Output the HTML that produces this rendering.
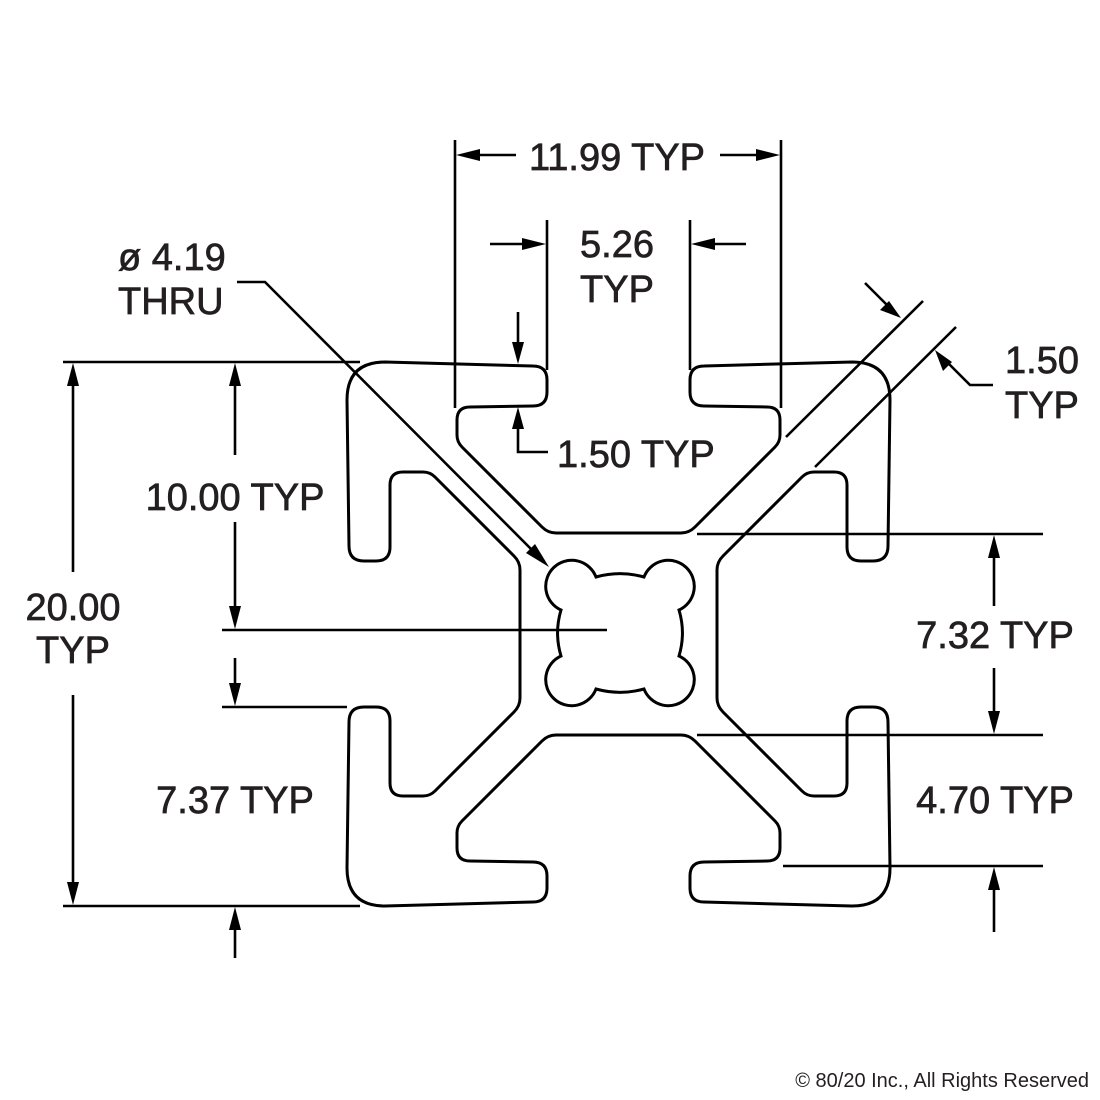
<!DOCTYPE html>
<html><head><meta charset="utf-8"><style>
html,body{margin:0;padding:0;background:#fff;}
svg{display:block;}
text{font-family:"Liberation Sans",Arial,sans-serif;fill:#231f20;}
</style></head><body>
<svg width="1100" height="1100" viewBox="0 0 1100 1100" xmlns="http://www.w3.org/2000/svg">
<defs>
<path id="q" d="M618.5,533 L556,533 Q548,533 542,527 L462,447 Q457,442 457,435 L457,420 Q457,407 470,407 L533,406 Q547,406 547,392 L547,380 Q547,366 533,366 L385,362 Q347,362 347,400 L349,546 Q349,561 364,561 L376,561 Q390,561 390,547 L390,485 Q390,472 403,472 L423,472 Q430,472 435,477 L514,556 Q520,562 520,570 L520,634" fill="none" stroke="#000" stroke-width="3" stroke-linejoin="round"/>
</defs>
<use href="#q"/>
<use href="#q" transform="translate(1237,0) scale(-1,1)"/>
<use href="#q" transform="translate(0,1268) scale(1,-1)"/>
<use href="#q" transform="translate(1237,1268) scale(-1,-1)"/>
<path d="M596,577 A26,26 0 1 0 561,610 A80,80 0 0 0 561,656 A26,26 0 1 0 596,689 A90,90 0 0 0 644,689 A26,26 0 1 0 679,656 A80,80 0 0 0 679,610 A26,26 0 1 0 644,577 A90,90 0 0 0 596,577 Z" fill="none" stroke="#000" stroke-width="3"/>

<g stroke="#000" stroke-width="2.6" fill="none">
<line x1="455" y1="140" x2="455" y2="408"/><line x1="781" y1="140" x2="781" y2="408"/>
<line x1="470" y1="155" x2="516" y2="155"/><line x1="720" y1="155" x2="766" y2="155"/>
<line x1="547" y1="220" x2="547" y2="370"/><line x1="690" y1="220" x2="690" y2="370"/>
<line x1="490" y1="244" x2="530" y2="244"/><line x1="707" y1="244" x2="746" y2="244"/>
<line x1="518" y1="312" x2="518" y2="348"/>
<polyline points="518,424 518,452 548,452"/>
<polyline points="237,282 265,282 538,556"/>
<line x1="786" y1="437" x2="923" y2="301"/><line x1="815" y1="467" x2="956" y2="327"/>
<line x1="865" y1="283" x2="888" y2="306"/>
<polyline points="993,385 970,385 947,362"/>
<line x1="63" y1="362" x2="360" y2="362"/><line x1="63" y1="906" x2="360" y2="906"/>
<line x1="222" y1="630" x2="607" y2="630"/><line x1="222" y1="707" x2="347" y2="707"/>
<line x1="73" y1="378" x2="73" y2="572"/><line x1="73" y1="695" x2="73" y2="890"/>
<line x1="235" y1="378" x2="235" y2="455"/><line x1="235" y1="522" x2="235" y2="614"/>
<line x1="235" y1="658" x2="235" y2="690"/><line x1="235" y1="922" x2="235" y2="958"/>
<line x1="697" y1="534" x2="1043" y2="534"/><line x1="697" y1="735" x2="1043" y2="735"/>
<line x1="783" y1="866" x2="1043" y2="866"/>
<line x1="994" y1="550" x2="994" y2="606"/><line x1="994" y1="668" x2="994" y2="719"/>
<line x1="994" y1="882" x2="994" y2="932"/>
</g>
<g fill="#000">
<polygon points="456,155 480,149 480,161"/>
<polygon points="780,155 756,149 756,161"/>
<polygon points="546,244 522,238 522,250"/>
<polygon points="691,244 715,238 715,250"/>
<polygon points="518,364 512,342 524,342"/>
<polygon points="518,407 512,429 524,429"/>
<polygon points="549,567 526,553 535,544"/>
<polygon points="901,318 880,310 889,301"/>
<polygon points="935,350 943,371 952,362"/>
<polygon points="73,363 67,386 79,386"/>
<polygon points="73,905 67,882 79,882"/>
<polygon points="235,363 229,386 241,386"/>
<polygon points="235,629 229,606 241,606"/>
<polygon points="235,706 229,683 241,683"/>
<polygon points="235,907 229,930 241,930"/>
<polygon points="994,535 988,558 1000,558"/>
<polygon points="994,734 988,711 1000,711"/>
<polygon points="994,867 988,890 1000,890"/>
</g>
<g font-size="38" stroke="#231f20" stroke-width="0.7">
<text x="617" y="170" text-anchor="middle">11.99 TYP</text>
<text x="617" y="257" text-anchor="middle">5.26</text>
<text x="617" y="302" text-anchor="middle">TYP</text>
<text x="118" y="270">ø 4.19</text>
<text x="118" y="314">THRU</text>
<text x="557" y="467">1.50 TYP</text>
<text x="1005" y="373">1.50</text>
<text x="1005" y="418">TYP</text>
<text x="235" y="510" text-anchor="middle">10.00 TYP</text>
<text x="73" y="620" text-anchor="middle">20.00</text>
<text x="73" y="663" text-anchor="middle">TYP</text>
<text x="235" y="813" text-anchor="middle">7.37 TYP</text>
<text x="995" y="648" text-anchor="middle">7.32 TYP</text>
<text x="995" y="813" text-anchor="middle">4.70 TYP</text>
</g>
<text x="1089" y="1087" font-size="20" text-anchor="end">© 80/20 Inc., All Rights Reserved</text>
</svg>
</body></html>
